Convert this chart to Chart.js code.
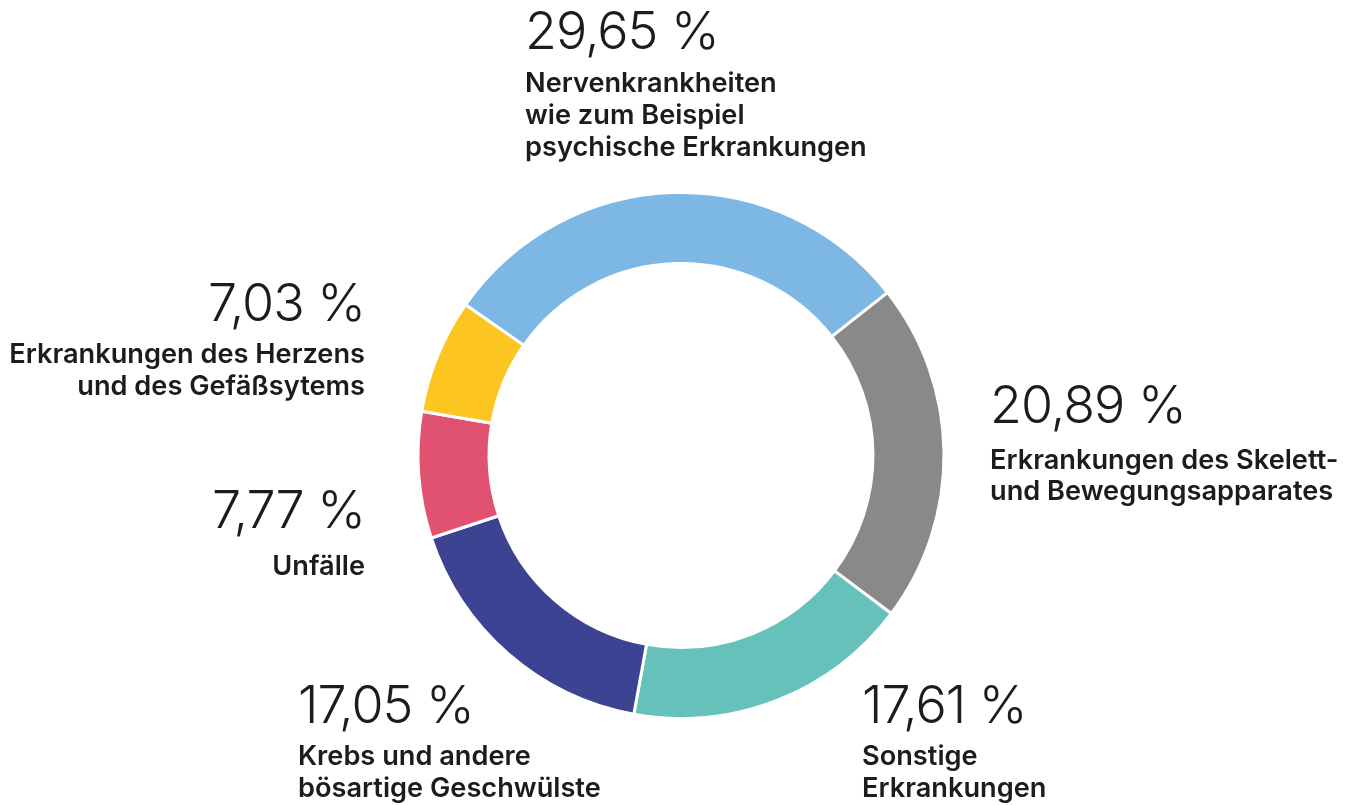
<!DOCTYPE html>
<html lang="de">
<head>
<meta charset="utf-8">
<title>Ursachen</title>
<script src="https://cdn.jsdelivr.net/npm/chart.js@4"></script>
<style>
  html, body { margin: 0; padding: 0; background: #ffffff; }
  #wrap { position: relative; width: 1359px; height: 805px; }
</style>
</head>
<body>
<div id="wrap"><canvas id="chart"></canvas></div>
<script>
// ---- data ----
const categories = [
  "Nervenkrankheiten wie zum Beispiel psychische Erkrankungen",
  "Erkrankungen des Skelett- und Bewegungsapparates",
  "Sonstige Erkrankungen",
  "Krebs und andere bösartige Geschwülste",
  "Unfälle",
  "Erkrankungen des Herzens und des Gefäßsytems"
];
const values = [29.65, 20.89, 17.61, 17.05, 7.77, 7.03];
const labelLines = [
  ["Nervenkrankheiten", "wie zum Beispiel", "psychische Erkrankungen"],
  ["Erkrankungen des Skelett-", "und Bewegungsapparates"],
  ["Sonstige", "Erkrankungen"],
  ["Krebs und andere", "bösartige Geschwülste"],
  ["Unfälle"],
  ["Erkrankungen des Herzens", "und des Gefäßsytems"]
];
const colors = ["#7db8e5", "#898989", "#66c1ba", "#3d4393", "#e0526f", "#fcc521"];

// ---- label layout (text placement only) ----
const labelX      = [525, 990, 862, 298, 365, 365];
const labelAlign  = ["left", "left", "left", "left", "right", "right"];
const numBaseline = [49, 423, 723, 723, 528, 321];
const lineBase    = [
  [92, 124, 156],
  [469, 500],
  [765, 797],
  [765, 797],
  [575],
  [363, 395]
];

function fmtPct(v) {
  return v.toFixed(2).replace(".", ",") + " %";
}

const textPlugin = {
  id: "outerLabels",
  afterDraw(chart) {
    const ctx = chart.ctx;
    ctx.save();
    ctx.fillStyle = "#1c1c1c";
    ctx.textBaseline = "alphabetic";
    values.forEach((v, i) => {
      ctx.textAlign = labelAlign[i];
      ctx.font = "300 52px Inter";
      if ("letterSpacing" in ctx) ctx.letterSpacing = "-1px";
      ctx.fillText(fmtPct(v), labelX[i], numBaseline[i]);
      ctx.font = "600 27.2px Inter";
      if ("letterSpacing" in ctx) ctx.letterSpacing = "0px";
      labelLines[i].forEach((line, j) => {
        ctx.fillText(line, labelX[i], lineBase[i][j]);
      });
    });
    ctx.restore();
  }
};

new Chart(document.getElementById("chart"), {
  type: "doughnut",
  data: {
    labels: categories,
    datasets: [{
      data: values,
      backgroundColor: colors,
      hoverBackgroundColor: colors,
      borderColor: "#ffffff",
      hoverBorderColor: "#ffffff",
      borderWidth: 3,
      hoverBorderWidth: 3,
      hoverOffset: 0,
      offset: 0
    }]
  },
  options: {
    responsive: true,
    maintainAspectRatio: false,
    animation: false,
    rotation: -55,
    cutout: "73%",
    layout: { padding: { top: 191, bottom: 85, left: 300, right: 297 } },
    plugins: {
      legend: { display: false },
      tooltip: { enabled: false }
    },
    events: []
  },
  plugins: [textPlugin]
});
</script>
</body>
</html>
